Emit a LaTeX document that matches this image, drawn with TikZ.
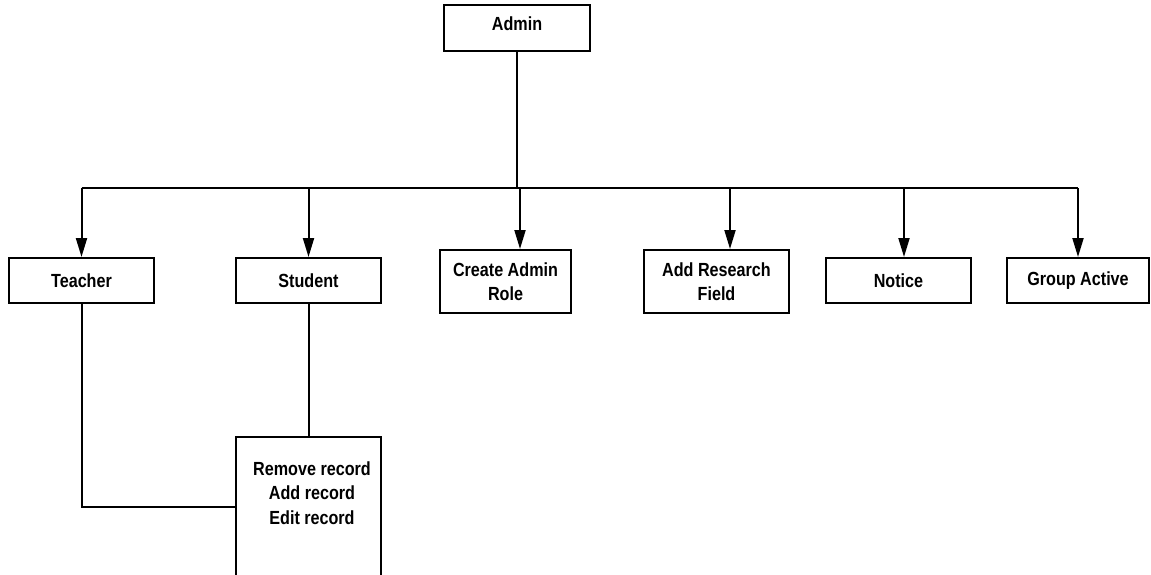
\documentclass[tikz,border=0pt]{standalone}
\usepackage{fontspec}
\setmainfont[FakeStretch=0.85]{Liberation Sans}
\usetikzlibrary{arrows.meta}
\begin{document}
\begin{tikzpicture}[x=1pt,y=-1pt,
  box/.style={draw,line width=2pt,fill=white,align=center,inner sep=0pt,
    font=\fontsize{19}{24.5}\selectfont\bfseries},
  txt/.style={align=center,inner sep=0pt,font=\fontsize{19}{24.5}\selectfont\bfseries},
  conn/.style={line width=2pt},
  arr/.style={conn,-{Triangle[width=11pt,length=19pt]}}]
\useasboundingbox (0,0) rectangle (1151,575);
\node[box,minimum width=146pt,minimum height=46pt] (admin) at (517,28) {};
\node[txt] (admintxt) at (517,24) {Admin};
\node[box,minimum width=145pt,minimum height=45pt] (teacher) at (81.5,280.5) {Teacher};
\node[box,minimum width=145pt,minimum height=45pt] (student) at (308.5,280.5) {Student};
\node[box,minimum width=131pt,minimum height=63pt] (create) at (505.5,281.5) {Create Admin\\Role};
\node[box,minimum width=145pt,minimum height=63pt] (research) at (716.5,281.5) {Add Research\\Field};
\node[box,minimum width=145pt,minimum height=45pt] (notice) at (898.5,280.5) {Notice};
\node[box,minimum width=142pt,minimum height=45pt] (group) at (1078,280.5) {Group Active};
\node[box,minimum width=145pt,minimum height=140pt] (rec) at (308.5,507) {};
\node[txt] (rectxt) at (312,493) {Remove record\\Add record\\Edit record};
\coordinate (bus) at (518,188);
\coordinate (createIn) at ([xshift=14.5pt]create.north);
\coordinate (researchIn) at ([xshift=13.5pt]research.north);
\coordinate (noticeIn) at ([xshift=5.5pt]notice.north);
\draw[conn] (admin.south) -- (admin.south |- bus);
\draw[conn] (bus -| teacher.north) -- (bus -| group.north);
\draw[arr] (bus -| teacher.north) -- (teacher.north);
\draw[arr] (bus -| student.north) -- (student.north);
\draw[arr] (bus -| createIn) -- (createIn);
\draw[arr] (bus -| researchIn) -- (researchIn);
\draw[arr] (bus -| noticeIn) -- (noticeIn);
\draw[arr] (bus -| group.north) -- (group.north);
\draw[conn] (teacher.south) |- (rec.west);
\draw[conn] (student.south) -- (rec.north);
\end{tikzpicture}
\end{document}
